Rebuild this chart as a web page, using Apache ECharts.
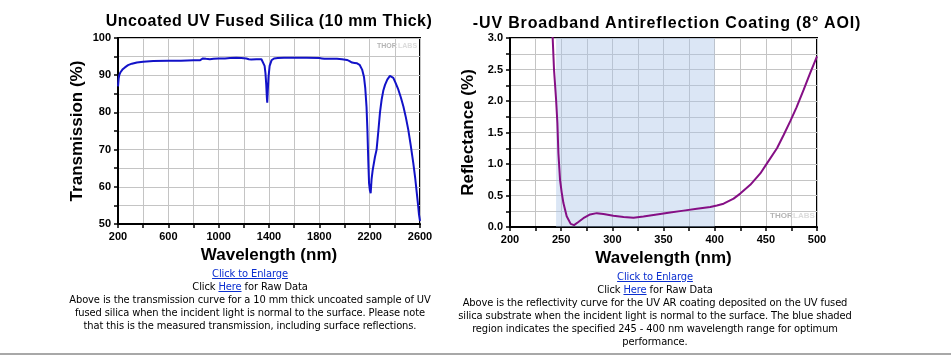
<!DOCTYPE html>
<html>
<head>
<meta charset="utf-8">
<script src="https://cdn.jsdelivr.net/npm/echarts@6/dist/echarts.min.js"></script>
<style>
  html, body { margin: 0; padding: 0; background: #fff; }
  body { width: 951px; height: 356px; position: relative; overflow: hidden; }
  #chart { position: absolute; left: 0; top: 0; width: 951px; height: 356px; }
  .ttl { position: absolute; text-align: center; font-family: "Liberation Sans", Arial, sans-serif; font-weight: bold; font-size: 16px; line-height: 18px; color: #000; white-space: nowrap; }
  .cap { position: absolute; text-align: center; font-family: "DejaVu Sans Condensed", "DejaVu Sans", sans-serif; font-size: 11px; letter-spacing: -0.1px; line-height: 13px; color: #000; white-space: nowrap; }
  .cap a { color: #0b2fd0; text-decoration: underline; }
  #rule { position: absolute; left: 0; top: 353px; width: 951px; height: 2px; background: #a8a8a8; }
</style>
</head>
<body>
<div id="chart"></div>
<div class="ttl" id="ttlL" style="left:69px; width:400px; top:12px; letter-spacing:0.45px;"></div>
<div class="ttl" id="ttlR" style="left:417px; width:500px; top:14px; letter-spacing:0.85px;"></div>
<div class="cap" id="capL" style="left:0px; width:500px; top:267px;">
  <a href="#">Click to Enlarge</a><br>
  Click <a href="#">Here</a> for Raw Data<br>
  Above is the transmission curve for a 10 mm thick uncoated sample of UV<br>
  fused silica when the incident light is normal to the surface. Please note<br>
  that this is the measured transmission, including surface reflections.
</div>
<div class="cap" id="capR" style="left:405px; width:500px; top:269.5px;">
  <a href="#">Click to Enlarge</a><br>
  Click <a href="#">Here</a> for Raw Data<br>
  Above is the reflectivity curve for the UV AR coating deposited on the UV fused<br>
  silica substrate when the incident light is normal to the surface. The blue shaded<br>
  region indicates the specified 245 - 400 nm wavelength range for optimum<br>
  performance.
</div>
<div id="rule"></div>
<script>
// ---- Data: Uncoated UV Fused Silica transmission ----
const trWavelength = [200, 205, 210, 220, 235, 255, 280, 310, 350, 400, 480, 600, 700, 800, 850, 862, 875, 900, 930, 960, 1000, 1050, 1090, 1140, 1180, 1220, 1240, 1260, 1300, 1340, 1355, 1365, 1372, 1378, 1383, 1386, 1390, 1396, 1405, 1420, 1440, 1470, 1520, 1600, 1700, 1800, 1820, 1840, 1900, 1940, 1980, 2020, 2040, 2060, 2080, 2100, 2120, 2140, 2155, 2165, 2175, 2182, 2189, 2195, 2202, 2208, 2215, 2224, 2242, 2255, 2269, 2282, 2295, 2308, 2322, 2340, 2361, 2372, 2388, 2405, 2428, 2448, 2468, 2488, 2507, 2527, 2547, 2562, 2574, 2585, 2592, 2600];
const trValue = [87.0, 89.0, 90.0, 90.8, 91.5, 92.1, 92.7, 93.1, 93.4, 93.6, 93.8, 93.9, 93.9, 94.0, 94.0, 94.3, 94.5, 94.4, 94.3, 94.4, 94.5, 94.5, 94.6, 94.7, 94.6, 94.5, 94.3, 94.2, 94.3, 94.3, 93.8, 92.5, 90.5, 87.5, 84.0, 82.6, 85.5, 89.5, 92.5, 94.0, 94.5, 94.6, 94.7, 94.7, 94.7, 94.6, 94.5, 94.4, 94.4, 94.4, 94.3, 94.1, 93.8, 93.4, 93.3, 93.2, 92.8, 91.5, 89.5, 86.5, 81.5, 75.3, 67.0, 61.0, 59.0, 58.3, 62.0, 64.5, 68.0, 70.0, 75.0, 80.0, 83.4, 85.8, 87.4, 88.8, 89.8, 89.9, 89.3, 88.0, 86.1, 84.0, 81.6, 78.6, 75.3, 71.0, 66.3, 62.3, 58.5, 55.0, 52.5, 50.8];

// ---- Data: UV AR coating reflectance ----
const rfWavelength = [238, 241.7, 243, 245, 246.3, 247.3, 248.9, 250.5, 252.2, 255.4, 259.3, 262.6, 266.8, 271.7, 278.3, 284.8, 291.3, 301, 311, 320.7, 330.4, 343.5, 356.5, 369.6, 382.6, 395.7, 402.2, 408.7, 418.5, 425, 434.8, 444.6, 451.1, 460.9, 467.4, 473.9, 480, 487, 493, 500];
const rfValue = [3.3, 3.0, 2.5, 2.03, 1.65, 1.17, 0.75, 0.55, 0.38, 0.17, 0.05, 0.03, 0.08, 0.14, 0.2, 0.22, 0.205, 0.18, 0.16, 0.147, 0.168, 0.2, 0.23, 0.26, 0.29, 0.316, 0.34, 0.37, 0.45, 0.53, 0.67, 0.85, 1.01, 1.25, 1.46, 1.68, 1.9, 2.18, 2.43, 2.71];
const rfBand = [245, 400];

// ---- Axis ranges / tick labels ----
const trX = { min: 200, max: 2600, grid: 200, label: 400 };
const trY = { min: 50, max: 100, grid: 5, label: 10 };
const rfX = { min: 200, max: 500, grid: 25, label: 50 };
const rfY = { min: 0, max: 3, grid: 0.25, label: 0.5 };

const titles = ['Uncoated UV Fused Silica (10 mm Thick)', '-UV Broadband Antireflection Coating (8\u00B0 AOI)'];
document.getElementById('ttlL').textContent = titles[0];
document.getElementById('ttlR').textContent = titles[1];

const FONT = '"Liberation Sans", Arial, sans-serif';

function pairs(xs, ys) { return xs.map((x, i) => [x, ys[i]]); }

function xAxisCfg(r, gridIndex, nameGap) {
  return {
    type: 'value', gridIndex, min: r.min, max: r.max, interval: r.grid,
    name: 'Wavelength (nm)', nameLocation: 'middle', nameGap,
    nameTextStyle: { fontFamily: FONT, fontWeight: 'bold', fontSize: 17, color: '#000' },
    axisLine: { show: true, lineStyle: { color: '#000', width: 2 } },
    axisTick: { show: true, inside: false, length: 4, lineStyle: { color: '#000', width: 1.5 } },
    axisLabel: {
      margin: 7, fontFamily: FONT, fontWeight: 'bold', fontSize: 11, color: '#000',
      showMinLabel: true, showMaxLabel: true, hideOverlap: false,
      formatter: v => (Math.abs(((v - r.min) / r.label) - Math.round((v - r.min) / r.label)) < 1e-6 ? String(v) : '')
    },
    splitLine: { show: true, lineStyle: { color: '#c4c4c4', width: 1 } }
  };
}
function yAxisCfg(r, gridIndex, name, nameGap, digits) {
  return {
    type: 'value', gridIndex, min: r.min, max: r.max, interval: r.grid,
    name, nameLocation: 'middle', nameGap,
    nameTextStyle: { fontFamily: FONT, fontWeight: 'bold', fontSize: 17, color: '#000' },
    axisLine: { show: true, lineStyle: { color: '#000', width: 2 } },
    axisTick: { show: true, inside: false, length: 4, lineStyle: { color: '#000', width: 1.5 } },
    axisLabel: {
      margin: 7, fontFamily: FONT, fontWeight: 'bold', fontSize: 11, color: '#000',
      showMinLabel: true, showMaxLabel: true, hideOverlap: false,
      formatter: v => (Math.abs(((v - r.min) / r.label) - Math.round((v - r.min) / r.label)) < 1e-6 ? v.toFixed(digits) : '')
    },
    splitLine: { show: true, lineStyle: { color: '#c4c4c4', width: 1 } }
  };
}

const chart = echarts.init(document.getElementById('chart'), null, { renderer: 'canvas' });
chart.setOption({
  backgroundColor: '#fff',
  animation: false,
  grid: [
    { left: 118, top: 38, width: 302, height: 186, show: true, borderColor: '#000', borderWidth: 2, backgroundColor: 'transparent', containLabel: false },
    { left: 510, top: 38, width: 307, height: 189, show: true, borderColor: '#000', borderWidth: 2, backgroundColor: 'transparent', containLabel: false }
  ],
  xAxis: [xAxisCfg(trX, 0, 16), xAxisCfg(rfX, 1, 22)],
  yAxis: [yAxisCfg(trY, 0, 'Transmission (%)', 32, 0), yAxisCfg(rfY, 1, 'Reflectance (%)', 33, 1)],
  graphic: [
    { type: 'text', style: { text: 'THOR', x: 377, y: 46, textAlign: 'left', textVerticalAlign: 'middle', font: 'bold 7px ' + FONT, fill: '#b4b4b4' } },
    { type: 'text', style: { text: 'LABS', x: 398, y: 46, textAlign: 'left', textVerticalAlign: 'middle', font: 'bold 7px ' + FONT, fill: '#dcdcdc' } },
    { type: 'text', style: { text: 'THOR', x: 770, y: 216, textAlign: 'left', textVerticalAlign: 'middle', font: 'bold 8px ' + FONT, fill: '#b4b4b4' } },
    { type: 'text', style: { text: 'LABS', x: 793, y: 216, textAlign: 'left', textVerticalAlign: 'middle', font: 'bold 8px ' + FONT, fill: '#dcdcdc' } }
  ],
  series: [
    {
      type: 'line', xAxisIndex: 0, yAxisIndex: 0, data: pairs(trWavelength, trValue),
      showSymbol: false, clip: true, lineStyle: { color: '#1212c8', width: 2 }
    },
    {
      type: 'line', xAxisIndex: 1, yAxisIndex: 1, data: pairs(rfWavelength, rfValue),
      showSymbol: false, clip: true, lineStyle: { color: '#850f85', width: 2 },
      markArea: {
        silent: true,
        itemStyle: { color: 'rgba(170,195,232,0.42)' },
        data: [[{ xAxis: rfBand[0] }, { xAxis: rfBand[1] }]]
      }
    }
  ]
});
</script>
</body>
</html>
